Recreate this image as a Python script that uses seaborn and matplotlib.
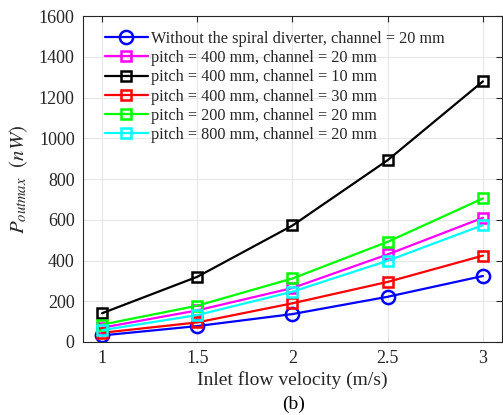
import matplotlib
matplotlib.use("Agg")
import matplotlib.pyplot as plt
import seaborn as sns
import pandas as pd

velocity = [1, 1.5, 2, 2.5, 3]

labels = [
    "Without the spiral diverter, channel = 20 mm",
    "pitch = 400 mm, channel = 20 mm",
    "pitch = 400 mm, channel = 10 mm",
    "pitch = 400 mm, channel = 30 mm",
    "pitch = 200 mm, channel = 20 mm",
    "pitch = 800 mm, channel = 20 mm",
]
no_diverter = [32, 78, 137, 222, 324]
p400_c20 = [70, 155, 265, 430, 610]
p400_c10 = [141, 320, 572, 893, 1280]
p400_c30 = [45, 96, 190, 295, 424]
p200_c20 = [85, 178, 312, 492, 705]
p800_c20 = [58, 132, 247, 399, 574]

series = [no_diverter, p400_c20, p400_c10, p400_c30, p200_c20, p800_c20]
colors = ["#0000ff", "#ff00ff", "#000000", "#ff0000", "#00ff00", "#00ffff"]
markers = ["o", "s", "s", "s", "s", "s"]

rows = []
for lab, vals in zip(labels, series):
    for v, p in zip(velocity, vals):
        rows.append({"velocity": v, "power": p, "case": lab})
df = pd.DataFrame(rows)

sns.set_theme(style="white")
plt.rcParams["font.family"] = ["Liberation Serif", "DejaVu Serif"]
plt.rcParams["mathtext.fontset"] = "stix"

fig = plt.figure(figsize=(5.03, 4.15), dpi=100)
ax = fig.add_axes([0.165, 0.176, 0.833, 0.785])

for lab, col, mk in zip(labels, colors, markers):
    sub = df[df["case"] == lab]
    ms = 9.5 if mk == "o" else 7
    sns.lineplot(data=sub, x="velocity", y="power", ax=ax, color=col,
                 marker=mk, markersize=ms, markerfacecolor="none",
                 markeredgecolor=col, markeredgewidth=1.8, linewidth=1.6,
                 label=lab, estimator=None, sort=False)

ax.set_xlim(0.9, 3.1)
ax.set_ylim(0, 1600)
ax.set_xticks([1, 1.5, 2, 2.5, 3])
ax.set_xticklabels(["1", "1.5", "2", "2.5", "3"])
ax.set_yticks(range(0, 1601, 200))
ax.grid(True, color="#e6e6e6", linewidth=0.8)
ax.tick_params(direction="in", length=4, width=0.8, colors="#262626",
               labelsize=13, top=True, right=True, labelcolor="#262626", pad=6)
for s in ax.spines.values():
    s.set_color("#262626")
    s.set_linewidth(0.8)

ax.set_xlabel("Inlet flow velocity (m/s)", fontsize=14, color="#262626", labelpad=3)
ax.set_ylabel(r"$P_{outmax}\ \ (nW)$", fontsize=15, color="#262626", labelpad=6)
fig.text(0.583, 0.005, "(b)", ha="center", va="bottom", fontsize=14, color="black")

leg = ax.legend(loc="upper left", bbox_to_anchor=(0.03, 0.985), frameon=False,
                fontsize=11.7, handlelength=2.6, handletextpad=0.2,
                labelspacing=0.2, borderaxespad=0.2)

fig.savefig("out.png", dpi=100)
